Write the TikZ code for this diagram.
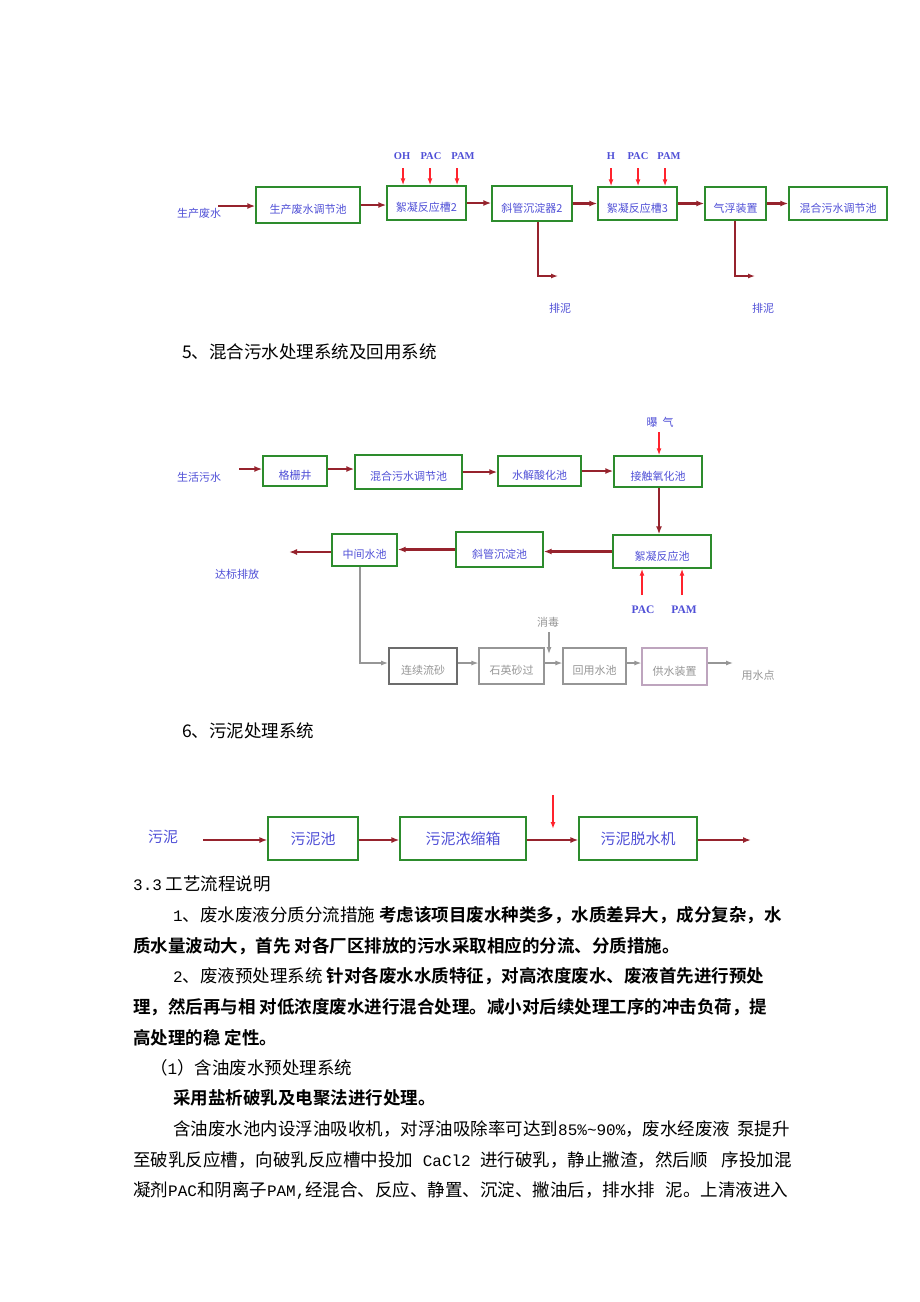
\documentclass[tikz,border=0pt]{standalone}
\usepackage{fontspec}
\setmainfont{Liberation Serif}
\newfontfamily\cjk{Noto Sans CJK SC}
\newfontfamily\cjkb{Noto Sans CJK SC Bold}
\newfontfamily\latmono{Liberation Mono}
\newcommand{\hw}[1]{{\latmono\fontsize{16}{16}\selectfont #1}}
\usetikzlibrary{arrows.meta}
\definecolor{bgreen}{RGB}{45,140,45}
\definecolor{lblue}{RGB}{80,80,215}
\definecolor{dred}{RGB}{150,35,45}
\definecolor{bred}{RGB}{255,35,45}
\definecolor{gtext}{RGB}{150,150,150}
\definecolor{gline}{RGB}{150,150,150}
\definecolor{pgray}{RGB}{190,165,190}
\begin{document}
\begin{tikzpicture}[x=1pt,y=-1pt,
 box/.style={draw=bgreen,line width=1.4pt,inner sep=0pt,text=lblue,font=\cjk\fontsize{11}{11}\selectfont,text height=19pt,text depth=2pt},
 sbox/.style={draw=bgreen,line width=1.1pt,inner sep=0pt,text=lblue,font=\cjk\fontsize{15}{15}\selectfont},
 gbox/.style={draw=gline,line width=1.2pt,inner sep=0pt,text=gtext,font=\cjk\fontsize{11}{11}\selectfont,text height=19pt,text depth=2pt},
 lbl/.style={inner sep=0pt,text=lblue,font=\cjk\fontsize{11}{11}\selectfont},
 glbl/.style={inner sep=0pt,text=gtext,font=\cjk\fontsize{11}{11}\selectfont},
 chemlbl/.style={inner sep=0pt,text=lblue,font=\bfseries\fontsize{10.5}{10.5}\selectfont},
 flow/.style={draw=dred,line width=2.2pt,-{Latex[length=8pt,width=6pt]}},
 thinflow/.style={draw=dred,line width=1.3pt,-{Latex[length=7pt,width=5pt]}},
 chem/.style={draw=bred,line width=1.5pt,-{Latex[length=7pt,width=5pt]}},
 gflow/.style={draw=gline,line width=1.2pt,-{Latex[length=7pt,width=5pt]}},
 body/.style={inner sep=0pt,anchor=west,font=\cjk\fontsize{17.5}{17.5}\selectfont}
]
\useasboundingbox[fill=white] (0,0) rectangle (920,1302);

% ---------- Diagram 1 ----------
\node[lbl] (in1) at (199,213) {生产废水};
\coordinate (s1) at (218,206);
\node[box,minimum width=104pt,minimum height=36pt] (b11) at (308,205) {生产废水调节池};
\node[box,minimum width=79pt,minimum height=34pt] (b12) at (426.5,203) {絮凝反应槽2};
\node[box,minimum width=80pt,minimum height=35pt] (b13) at (532,203.5) {斜管沉淀器2};
\node[box,minimum width=79pt,minimum height=33pt] (b14) at (637.5,203.5) {絮凝反应槽3};
\node[box,minimum width=61pt,minimum height=33pt] (b15) at (735.5,203.5) {气浮装置};
\node[box,minimum width=98pt,minimum height=33pt] (b16) at (838,203.5) {混合污水调节池};
\draw[flow] (s1) -- (s1 -| b11.west);
\draw[flow] (b11.east) -- (b11.east -| b12.west);
\draw[flow] (b12.east) -- (b12.east -| b13.west);
\draw[flow] (b13.east) -- (b13.east -| b14.west);
\draw[flow] (b14.east) -- (b14.east -| b15.west);
\draw[flow] (b15.east) -- (b15.east -| b16.west);
\node[chemlbl] (oh) at (402,156) {OH};
\node[chemlbl] (pac1) at (431,156) {PAC};
\node[chemlbl] (pam1) at (463,156) {PAM};
\coordinate (c11) at (403,168);
\coordinate (c12) at (430,168);
\coordinate (c13) at (457,168);
\draw[chem] (c11) -- (c11 |- b12.north);
\draw[chem] (c12) -- (c12 |- b12.north);
\draw[chem] (c13) -- (c13 |- b12.north);
\node[chemlbl] (h) at (611,156) {H};
\node[chemlbl] (pac2) at (638,156) {PAC};
\node[chemlbl] (pam2) at (669,156) {PAM};
\coordinate (c21) at (611,168);
\coordinate (c22) at (638,168);
\coordinate (c23) at (665,168);
\draw[chem] (c21) -- (c21 |- b14.north);
\draw[chem] (c22) -- (c22 |- b14.north);
\draw[chem] (c23) -- (c23 |- b14.north);
\coordinate (p1) at (538,276);
\coordinate (p2) at (558,276);
\draw[thinflow] (b13.south -| p1) -- (p1) -- (p2);
\coordinate (p3) at (735,276);
\coordinate (p4) at (755,276);
\draw[thinflow] (b15.south -| p3) -- (p3) -- (p4);
\node[lbl] (pn1) at (560,308) {排泥};
\node[lbl] (pn2) at (763,308) {排泥};

\node[body] (h5) at (182,352) {5、混合污水处理系统及回用系统};

% ---------- Diagram 2 ----------
\node[lbl] (in2) at (199,477) {生活污水};
\coordinate (s2) at (239,469);
\node[box,minimum width=64pt,minimum height=30pt] (g1) at (295,471) {格栅井};
\node[box,minimum width=107pt,minimum height=34pt] (g2) at (408.5,472) {混合污水调节池};
\node[box,minimum width=83pt,minimum height=30pt] (g3) at (539.5,471) {水解酸化池};
\node[box,minimum width=88pt,minimum height=31pt] (g4) at (658,471.5) {接触氧化池};
\node[box,minimum width=98pt,minimum height=33pt] (g5) at (662,551.5) {絮凝反应池};
\node[box,minimum width=87pt,minimum height=35pt] (g6) at (499.5,549.5) {斜管沉淀池};
\node[box,minimum width=65pt,minimum height=32pt] (g7) at (364.5,550) {中间水池};
\draw[flow] (s2) -- (s2 -| g1.west);
\draw[flow] (g1.east |- s2) -- (s2 -| g2.west);
\draw[flow] (g2.east) -- (g2.east -| g3.west);
\draw[flow] (g3.east) -- (g3.east -| g4.west);
\draw[flow] (g4.south -| 659,0) -- (g5.north -| 659,0);
\draw[flow] (g5.west) -- (g5.west -| g6.east);
\draw[flow] (g6.west) -- (g6.west -| g7.east);
\coordinate (o2) at (289,552);
\draw[flow] (g7.west |- o2) -- (o2);
\node[lbl] (db) at (237,574) {达标排放};
\node[lbl] (bq) at (660,422) {曝\hspace{5pt}气};
\coordinate (c31) at (659,432);
\draw[chem] (c31) -- (c31 |- g4.north);
\node[chemlbl,font=\bfseries\fontsize{11.5}{11.5}\selectfont] (pac3) at (643,610) {PAC};
\node[chemlbl,font=\bfseries\fontsize{11.5}{11.5}\selectfont] (pam3) at (684,610) {PAM};
\coordinate (c41) at (642,595);
\coordinate (c42) at (682,595);
\draw[chem] (c41) -- (c41 |- g5.south);
\draw[chem] (c42) -- (c42 |- g5.south);

% recycle line (gray)
\node[gbox,draw=gray!85!black,line width=1.8pt,minimum width=68pt,minimum height=36pt] (r1) at (423,666) {连续流砂};
\node[gbox,minimum width=65pt,minimum height=36pt] (r2) at (511.5,666) {石英砂过};
\node[gbox,minimum width=63pt,minimum height=36pt] (r3) at (594.5,666) {回用水池};
\node[gbox,draw=pgray,minimum width=65pt,minimum height=37pt] (r4) at (674.5,666.5) {供水装置};
\coordinate (q1) at (360,663);
\draw[gflow] (g7.south -| q1) -- (q1) -- (q1 -| r1.west);
\draw[gflow] (r1.east |- q1) -- (q1 -| r2.west);
\draw[gflow] (r2.east |- q1) -- (q1 -| r3.west);
\draw[gflow] (r3.east |- q1) -- (q1 -| r4.west);
\coordinate (q2) at (733,663);
\draw[gflow] (r4.east |- q2) -- (q2);
\node[glbl] (xd) at (548,622) {消毒};
\coordinate (c51) at (549,632);
\coordinate (c52) at (549,654);
\draw[gflow] (c51) -- (c52);
\node[glbl] (ysd) at (758,675) {用水点};

\node[body] (h6) at (182,731) {6、污泥处理系统};

% ---------- Diagram 3 ----------
\node[lbl,font=\cjk\fontsize{15}{15}\selectfont] (in3) at (163,837) {污泥};
\coordinate (s3) at (203,840);
\node[sbox,minimum width=90pt,minimum height=43pt] (m1) at (313,838.5) {污泥池};
\node[sbox,minimum width=126pt,minimum height=43pt] (m2) at (463,838.5) {污泥浓缩箱};
\node[sbox,minimum width=118pt,minimum height=43pt] (m3) at (638,838.5) {污泥脱水机};
\draw[flow] (s3) -- (s3 -| m1.west);
\draw[flow] (m1.east |- s3) -- (s3 -| m2.west);
\draw[flow] (m2.east |- s3) -- (s3 -| m3.west);
\coordinate (o3) at (751,840);
\draw[flow] (m3.east |- o3) -- (o3);
\coordinate (c61) at (553,795);
\coordinate (c62) at (553,829);
\draw[chem] (c61) -- (c62);

% ---------- Text ----------
\node[body] (t0) at (133,884) {\hw{3.3} 工艺流程说明};
\node[body] (t1) at (173,915) {\hw{1}、废水废液分质分流措施 {\cjkb 考虑该项目废水种类多，水质差异大，成分复杂，水}};
\node[body] (t2) at (133,946) {\cjkb 质水量波动大，首先 对各厂区排放的污水采取相应的分流、分质措施。};
\node[body] (t3) at (173,976) {\hw{2}、废液预处理系统 {\cjkb 针对各废水水质特征，对高浓度废水、废液首先进行预处}};
\node[body] (t4) at (133,1007) {\cjkb 理，然后再与相 对低浓度废水进行混合处理。减小对后续处理工序的冲击负荷，提};
\node[body] (t5) at (133,1038) {\cjkb 高处理的稳 定性。};
\node[body] (t6) at (150,1068) {（\hw{1}）含油废水预处理系统};
\node[body] (t7) at (173,1098) {\cjkb 采用盐析破乳及电聚法进行处理。};
\node[body] (t8) at (173,1129) {含油废水池内设浮油吸收机，对浮油吸除率可达到\hw{85\%\textasciitilde90\%}，废水经废液\hspace{0.4em}泵提升};
\node[body] (t9) at (133,1160) {至破乳反应槽，向破乳反应槽中投加\hspace{0.55em}\hw{CaCl2}\hspace{0.55em}进行破乳，静止撇渣，然后顺\hspace{0.8em}序投加混};
\node[body] (t10) at (133,1190) {凝剂\hw{PAC}和阴离子\hw{PAM,}经混合、反应、静置、沉淀、撇油后，排水排\hspace{0.6em}泥。上清液进入};
\end{tikzpicture}
\end{document}
